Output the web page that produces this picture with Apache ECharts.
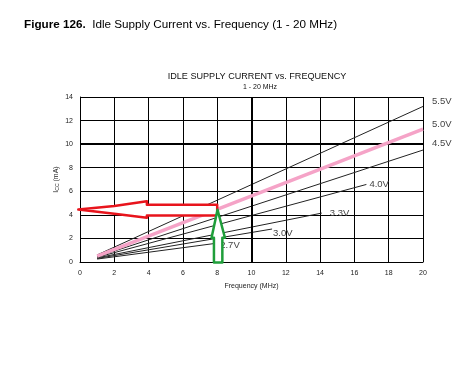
<!DOCTYPE html>
<html><head><meta charset="utf-8">
<script src="https://cdn.jsdelivr.net/npm/echarts@6/dist/echarts.min.js"></script>
<style>html,body{margin:0;padding:0;background:#fff}#c{width:466px;height:367px}</style>
</head><body><div id="c"></div>
<script>
// Data
const xTicks = [0,2,4,6,8,10,12,14,16,18,20];
const yTicks = [0,2,4,6,8,10,12,14];
const seriesNames = ['5.5V','5.0V','4.5V','4.0V','3.3V','3.0V','2.7V'];
const v55 = [[1,0.6],[20,13.2]];
const v50 = [[1,0.5],[20,11.27]];
const v45 = [[1,0.45],[20,9.5]];
const v40 = [[1,0.4],[16.7,6.58]];
const v33 = [[1,0.35],[14.1,4.15]];
const v30 = [[1,0.3],[11.2,2.8]];
const v27 = [[1,0.25],[8.0,1.6]];
// annotation arrows (data units)
const redArrow = [[-0.1,4.45],[2,4.75],[3.9,5.15],[3.9,4.85],[8,4.85],[8,3.95],[3.9,3.95],[3.9,3.75],[2,4.1]];
const greenArrow = [[8.02,4.43],[8.45,2.06],[8.3,2.06],[8.3,-0.05],[7.81,-0.05],[7.81,2.06],[7.67,2.06]];

const chart = echarts.init(document.getElementById('c'));
const FONT = '"Liberation Sans", Arial, sans-serif';
const LBL = { show: true, color: '#444', fontSize: 9.5, fontFamily: FONT };
function lineSeries(name, data, labelOffset, opts) {
  return Object.assign({
    name, type: 'line', data, symbol: 'none', silent: true, animation: false,
    lineStyle: { color: '#222', width: 1 },
    endLabel: Object.assign({}, LBL, { formatter: name, offset: labelOffset, distance: 3 })
  }, opts || {});
}
function arrowSeries(shape, color) {
  return {
    type: 'custom', silent: true, animation: false, clip: false, z: 10,
    data: [0],
    renderItem: function (params, api) {
      return {
        type: 'polygon',
        shape: { points: shape.map(p => api.coord(p)) },
        style: { fill: '#fff', stroke: color, lineWidth: 2.5, lineJoin: 'round' }
      };
    }
  };
}
chart.setOption({
  animation: false,
  title: [
    { text: '{b|Figure 126.}  Idle Supply Current vs. Frequency (1 - 20 MHz)', left: 19, top: 14,
      textStyle: { fontFamily: FONT, fontSize: 11.7, fontWeight: 'normal', color: '#000',
        rich: { b: { fontFamily: FONT, fontSize: 11.7, fontWeight: 'bold', color: '#000' } } } },
    { text: 'IDLE SUPPLY CURRENT vs. FREQUENCY', left: 252, textAlign: 'center', top: 67,
      textStyle: { fontFamily: FONT, fontSize: 9.1, fontWeight: 'normal', color: '#111' } },
    { text: '1 - 20 MHz', left: 255, textAlign: 'center', top: 79,
      textStyle: { fontFamily: FONT, fontSize: 7, fontWeight: 'normal', color: '#111' } }
  ],
  grid: { left: 80, right: 43, top: 97, bottom: 105, containLabel: false },
  xAxis: {
    type: 'value', min: 0, max: 20, interval: 2,
    name: 'Frequency (MHz)', nameLocation: 'middle', nameGap: 21,
    nameTextStyle: { fontFamily: FONT, fontSize: 7, color: '#222' },
    axisLine: { show: true, lineStyle: { color: '#000', width: 1 } },
    axisTick: { show: false },
    axisLabel: { fontFamily: FONT, fontSize: 7, color: '#222', margin: 8,
      formatter: v => xTicks.includes(v) ? String(v) : '' },
    splitLine: { show: true, lineStyle: { color: '#000', width: 1 } }
  },
  yAxis: {
    type: 'value', min: 0, max: 14, interval: 2,
    name: '{i|I}{s|CC} {i|(mA)}', nameLocation: 'middle', nameGap: 20, nameRotate: 90,
    nameMoveOverlap: false,
    nameTextStyle: { fontFamily: FONT, fontSize: 7, color: '#222',
      rich: { i: { fontFamily: FONT, fontSize: 7, color: '#222' }, s: { fontFamily: FONT, fontSize: 5, color: '#222', verticalAlign: 'bottom' } } },
    axisLine: { show: true, lineStyle: { color: '#000', width: 1 } },
    axisTick: { show: false },
    axisLabel: { fontFamily: FONT, fontSize: 7, color: '#222', margin: 7,
      formatter: v => yTicks.includes(v) ? String(v) : '' },
    splitLine: { show: true, lineStyle: { color: '#000', width: 1 } }
  },
  series: [
    {
      type: 'line', data: [], silent: true,
      markLine: { symbol: 'none', silent: true, animation: false, label: { show: false },
        lineStyle: { color: '#000', width: 2, type: 'solid' },
        data: [{ xAxis: 10 }, { yAxis: 10 }] }
    },
    lineSeries(seriesNames[0], v55, [6, -5]),
    lineSeries(seriesNames[2], v45, [6, -7]),
    lineSeries(seriesNames[3], v40, [0, 0]),
    lineSeries(seriesNames[4], v33, [5, 0]),
    lineSeries(seriesNames[5], v30, [-2, 4]),
    lineSeries(seriesNames[6], v27, [0, 2]),
    lineSeries(seriesNames[1], v50, [6, -5], { z: 5, lineStyle: { color: '#f5a3c7', width: 3.5 } }),
    arrowSeries(redArrow, '#e8141c'),
    arrowSeries(greenArrow, '#1f9e3a')
  ]
});
</script></body></html>
